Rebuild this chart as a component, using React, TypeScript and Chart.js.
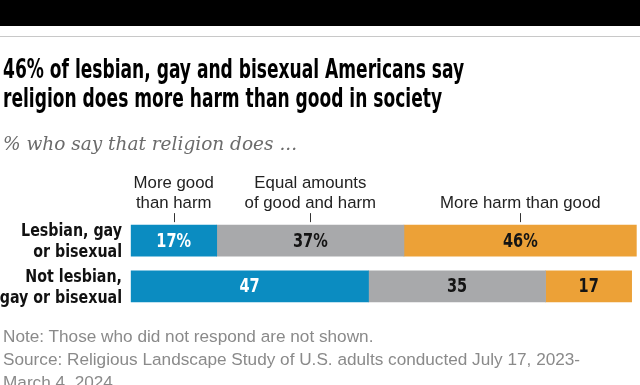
import React, { useEffect, useRef } from "react";
import { Chart, registerables } from "chart.js";

Chart.register(...registerables);

// ---- Data ----
const categories: string[][] = [
  ["Lesbian, gay", "or bisexual"],
  ["Not lesbian,", "gay or bisexual"],
];
const seriesNames = ["More good than harm", "Equal amounts of good and harm", "More harm than good"];
const headerLabels: string[][] = [["More good", "than harm"], ["Equal amounts", "of good and harm"], ["More harm than good"]];
const moreGood = [17, 47];
const equalAmounts = [37, 35];
const moreHarm = [46, 17];
const xMax = 100;

const titleLines = [
  "46% of lesbian, gay and bisexual Americans say",
  "religion does more harm than good in society",
];
const subtitle = "% who say that religion does ...";
const noteLines = [
  "Note: Those who did not respond are not shown.",
  "Source: Religious Landscape Study of U.S. adults conducted July 17, 2023-",
  "March 4, 2024.",
];

// ---- Styles ----
const seriesColors = ["#0B8CC1", "#A8A9AB", "#ECA137"];
const valueColors = ["#FFFFFF", "#141414", "#141414"];
const COND = "'DejaVu Sans Condensed', 'DejaVu Sans', sans-serif";
const SANS = "'Liberation Sans', Arial, sans-serif";

function drawScaled(ctx: CanvasRenderingContext2D, text: string, x: number, y: number, sx: number, align: CanvasTextAlign) {
  ctx.save();
  ctx.translate(x, y);
  ctx.scale(sx, 1);
  ctx.textAlign = align;
  ctx.fillText(text, 0, 0);
  ctx.restore();
}

const overlayPlugin = {
  id: "overlay",
  afterDatasetsDraw(chart: any) {
    const ctx = chart.ctx as CanvasRenderingContext2D;
    ctx.save();
    // category labels
    const yScale = chart.scales.y;
    ctx.font = `bold 18.5px ${COND}`;
    ctx.fillStyle = "#111111";
    ctx.textBaseline = "middle";
    categories.forEach((lines, i) => {
      const cy = yScale.getPixelForValue(i);
      lines.forEach((ln, k) => {
        drawScaled(ctx, ln, 122, cy + 1 + (k - (lines.length - 1) / 2) * 21, 0.855, "right");
      });
    });
    chart.data.datasets.forEach((ds: any, di: number) => {
      const meta = chart.getDatasetMeta(di);
      meta.data.forEach((bar: any, i: number) => {
        const p = bar.getProps(["x", "y", "base"], true);
        const cx = (p.x + p.base) / 2;
        const v = ds.data[i];
        const txt = i === 0 ? `${v}%` : `${v}`;
        ctx.font = `bold 19px ${COND}`;
        ctx.fillStyle = valueColors[di];
        ctx.textBaseline = "middle";
        drawScaled(ctx, txt, cx, p.y + 1, 0.85, "center");
      });
      const b0 = meta.data[0].getProps(["x", "y", "base", "height"], true);
      const cx = (b0.x + b0.base) / 2;
      const top = b0.y - b0.height / 2;
      const lines = headerLabels[di];
      ctx.font = `16.8px ${SANS}`;
      ctx.fillStyle = "#222222";
      ctx.textAlign = "center";
      ctx.textBaseline = "alphabetic";
      lines.forEach((ln, k) => {
        ctx.fillText(ln, cx, top - 17 - (lines.length - 1 - k) * 20);
      });
      ctx.strokeStyle = "#333333";
      ctx.lineWidth = 1;
      ctx.beginPath();
      const tx = Math.round(cx) + 0.5;
      ctx.moveTo(tx, top - 12);
      ctx.lineTo(tx, top - 3);
      ctx.stroke();
    });
    ctx.restore();
  },
};

export default function App() {
  const canvasRef = useRef<HTMLCanvasElement | null>(null);

  useEffect(() => {
    if (!canvasRef.current) return;
    const chart = new Chart(canvasRef.current, {
      type: "bar",
      data: {
        labels: categories.map((c) => c.join(" ")),
        datasets: [moreGood, equalAmounts, moreHarm].map((d, i) => ({
          label: seriesNames[i],
          data: d,
          backgroundColor: seriesColors[i],
          borderWidth: 0,
          barThickness: 31,
        })),
      },
      options: {
        indexAxis: "y",
        responsive: false,
        animation: false,
        layout: { padding: { top: 217.75, bottom: 75.75, left: 130.7, right: 3.3 } },
        plugins: { legend: { display: false }, tooltip: { enabled: false } },
        scales: {
          x: { stacked: true, min: 0, max: xMax, display: false },
          y: { stacked: true, display: false },
        },
      },
      plugins: [overlayPlugin],
    } as any);
    return () => chart.destroy();
  }, []);

  const abs = (s: React.CSSProperties): React.CSSProperties => ({ position: "absolute", margin: 0, whiteSpace: "nowrap", ...s });

  return (
    <div style={{ position: "fixed", left: 0, top: 0, width: 640, height: 385, background: "#fff", overflow: "hidden" }}>
      <div style={abs({ left: 0, top: 0, width: 640, height: 26, background: "#000" })} />
      <div style={abs({ left: 0, top: 36, width: 640, height: 1, background: "#c8c8c8" })} />
      <canvas ref={canvasRef} width={640} height={385} style={{ position: "absolute", left: 0, top: 0, width: 640, height: 385 }} />
      <div
        style={abs({
          left: 3,
          top: 55,
          fontFamily: COND,
          fontWeight: "bold",
          fontSize: 26,
          lineHeight: "29px",
          color: "#000",
          transform: "scaleX(0.73)",
          transformOrigin: "0 0",
        })}
      >
        {titleLines.map((t, i) => (
          <div key={i}>{t}</div>
        ))}
      </div>
      <div style={abs({ left: 3, top: 133.6, fontFamily: "'DejaVu Serif', serif", fontStyle: "italic", fontSize: 18.5, lineHeight: "20px", color: "#6b6b6b" })}>
        {subtitle}
      </div>
      <div style={abs({ left: 3, top: 325, fontFamily: SANS, fontSize: 17.2, lineHeight: "23px", color: "#8a8a8a" })}>
        {noteLines.map((t, i) => (
          <div key={i}>{t}</div>
        ))}
      </div>
    </div>
  );
}
